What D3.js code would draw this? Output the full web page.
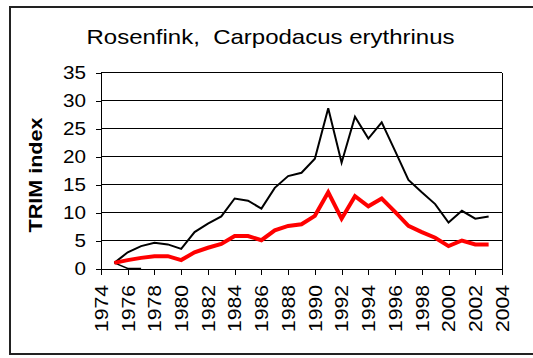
<!DOCTYPE html>
<html>
<head>
<meta charset="utf-8">
<script src="https://cdn.jsdelivr.net/npm/d3@7"></script>
<style>
  html, body { margin: 0; padding: 0; background: #fff; }
  svg text { font-family: "Liberation Sans", Arial, sans-serif; fill: #000; }
</style>
</head>
<body>
<svg id="chart" width="533" height="358"></svg>
<script>
// Survey years and TRIM index series
const years = [1975, 1976, 1977, 1978, 1979, 1980, 1981, 1982, 1983, 1984,
               1985, 1986, 1987, 1988, 1989, 1990, 1991, 1992, 1993, 1994,
               1995, 1996, 1997, 1998, 1999, 2000, 2001, 2002, 2003];
const indexBlack = [1.0, 2.9, 4.0, 4.6, 4.3, 3.5, 6.5, 8.0, 9.3, 12.5,
                    12.1, 10.7, 14.4, 16.5, 17.1, 19.6, 28.6, 18.9, 27.1, 23.2,
                    26.1, 21.0, 15.8, 13.6, 11.5, 8.2, 10.3, 8.9, 9.3];
const indexRed = [1.0, 1.5, 1.9, 2.2, 2.2, 1.5, 2.9, 3.7, 4.4, 5.8,
                  5.8, 5.05, 6.8, 7.6, 7.9, 9.4, 13.6, 8.9, 12.9, 11.1,
                  12.5, 10.1, 7.6, 6.5, 5.5, 4.0, 5.0, 4.3, 4.3];
const lowYears = [1975, 1976, 1977];
const indexLow = [1.0, 0, 0];

const yTicks = [0, 5, 10, 15, 20, 25, 30, 35];
const xTicks = d3.range(1974, 2005, 2);
const titleText = "Rosenfink,  Carpodacus erythrinus";
const yTitle = "TRIM index";

const svg = d3.select("#chart");
const plot = { left: 101, right: 502, top: 72.5, bottom: 268.5 };

const x = d3.scaleLinear().domain([1974, 2004]).range([plot.left, plot.right]);
const y = d3.scaleLinear().domain([0, 35]).range([plot.bottom, plot.top]);

// Outer chart frame
svg.append("rect")
  .attr("x", 10).attr("y", 7).attr("width", 540).attr("height", 347)
  .attr("fill", "none").attr("stroke", "#222").attr("stroke-width", 2);

// Title
svg.append("text")
  .attr("x", 270.5).attr("y", 44)
  .attr("text-anchor", "middle")
  .attr("font-size", 21)
  .style("white-space", "pre")
  .attr("textLength", 368).attr("lengthAdjust", "spacingAndGlyphs")
  .text(titleText);

// Horizontal gridlines
svg.append("g")
  .selectAll("line")
  .data(yTicks.filter(d => d > 0))
  .join("line")
  .attr("x1", plot.left).attr("x2", plot.right)
  .attr("y1", d => y(d)).attr("y2", d => y(d))
  .attr("stroke", "#000").attr("stroke-width", 1)
  .attr("shape-rendering", "crispEdges");

// Right border of plot area
svg.append("line")
  .attr("x1", plot.right).attr("x2", plot.right)
  .attr("y1", plot.top).attr("y2", plot.bottom)
  .attr("stroke", "#000").attr("stroke-width", 1)
  .attr("shape-rendering", "crispEdges");

// Y axis
const yAxis = svg.append("g")
  .attr("transform", `translate(${plot.left},0)`)
  .call(d3.axisLeft(y).tickValues(yTicks).tickSize(5).tickPadding(10).tickFormat(d3.format("d")));
yAxis.select(".domain").attr("stroke", "#000").attr("shape-rendering", "crispEdges");
yAxis.selectAll(".tick line").attr("stroke", "#000").attr("shape-rendering", "crispEdges");
yAxis.selectAll(".tick text")
  .attr("font-size", 18)
  .attr("font-family", "Liberation Sans, Arial, sans-serif")
  .attr("fill", "#000")
  .each(function(d) {
    const n = String(d).length;
    d3.select(this).attr("textLength", n * 11.5).attr("lengthAdjust", "spacingAndGlyphs");
  });

// X axis
const xAxis = svg.append("g")
  .attr("transform", `translate(0,${plot.bottom})`)
  .call(d3.axisBottom(x).tickValues(xTicks).tickSize(6).tickFormat(d3.format("d")));
xAxis.select(".domain").attr("stroke", "#000").attr("shape-rendering", "crispEdges");
xAxis.selectAll(".tick line").attr("stroke", "#000").attr("shape-rendering", "crispEdges");
xAxis.selectAll(".tick text")
  .attr("font-size", 18)
  .attr("font-family", "Liberation Sans, Arial, sans-serif")
  .attr("fill", "#000")
  .attr("text-anchor", "end")
  .attr("transform", "translate(0,16.5) rotate(-90)")
  .attr("x", 0).attr("y", 0).attr("dy", "0.35em")
  .attr("textLength", 47).attr("lengthAdjust", "spacingAndGlyphs");

// Y axis title
svg.append("text")
  .attr("transform", "translate(42,175) rotate(-90)")
  .attr("text-anchor", "middle")
  .attr("font-size", 18)
  .attr("font-weight", "bold")
  .attr("textLength", 115).attr("lengthAdjust", "spacingAndGlyphs")
  .text(yTitle);

// Series lines
const line = d3.line().x(d => x(d[0])).y(d => y(d[1]));

svg.append("path")
  .datum(d3.zip(lowYears, indexLow))
  .attr("d", line)
  .attr("fill", "none").attr("stroke", "#000").attr("stroke-width", 1.5);

svg.append("path")
  .datum(d3.zip(years, indexBlack))
  .attr("d", line)
  .attr("fill", "none").attr("stroke", "#000").attr("stroke-width", 2)
  .attr("stroke-linejoin", "miter");

svg.append("path")
  .datum(d3.zip(years, indexRed))
  .attr("d", line)
  .attr("fill", "none").attr("stroke", "#ff0000").attr("stroke-width", 4)
  .attr("stroke-linejoin", "miter");
</script>
</body>
</html>
